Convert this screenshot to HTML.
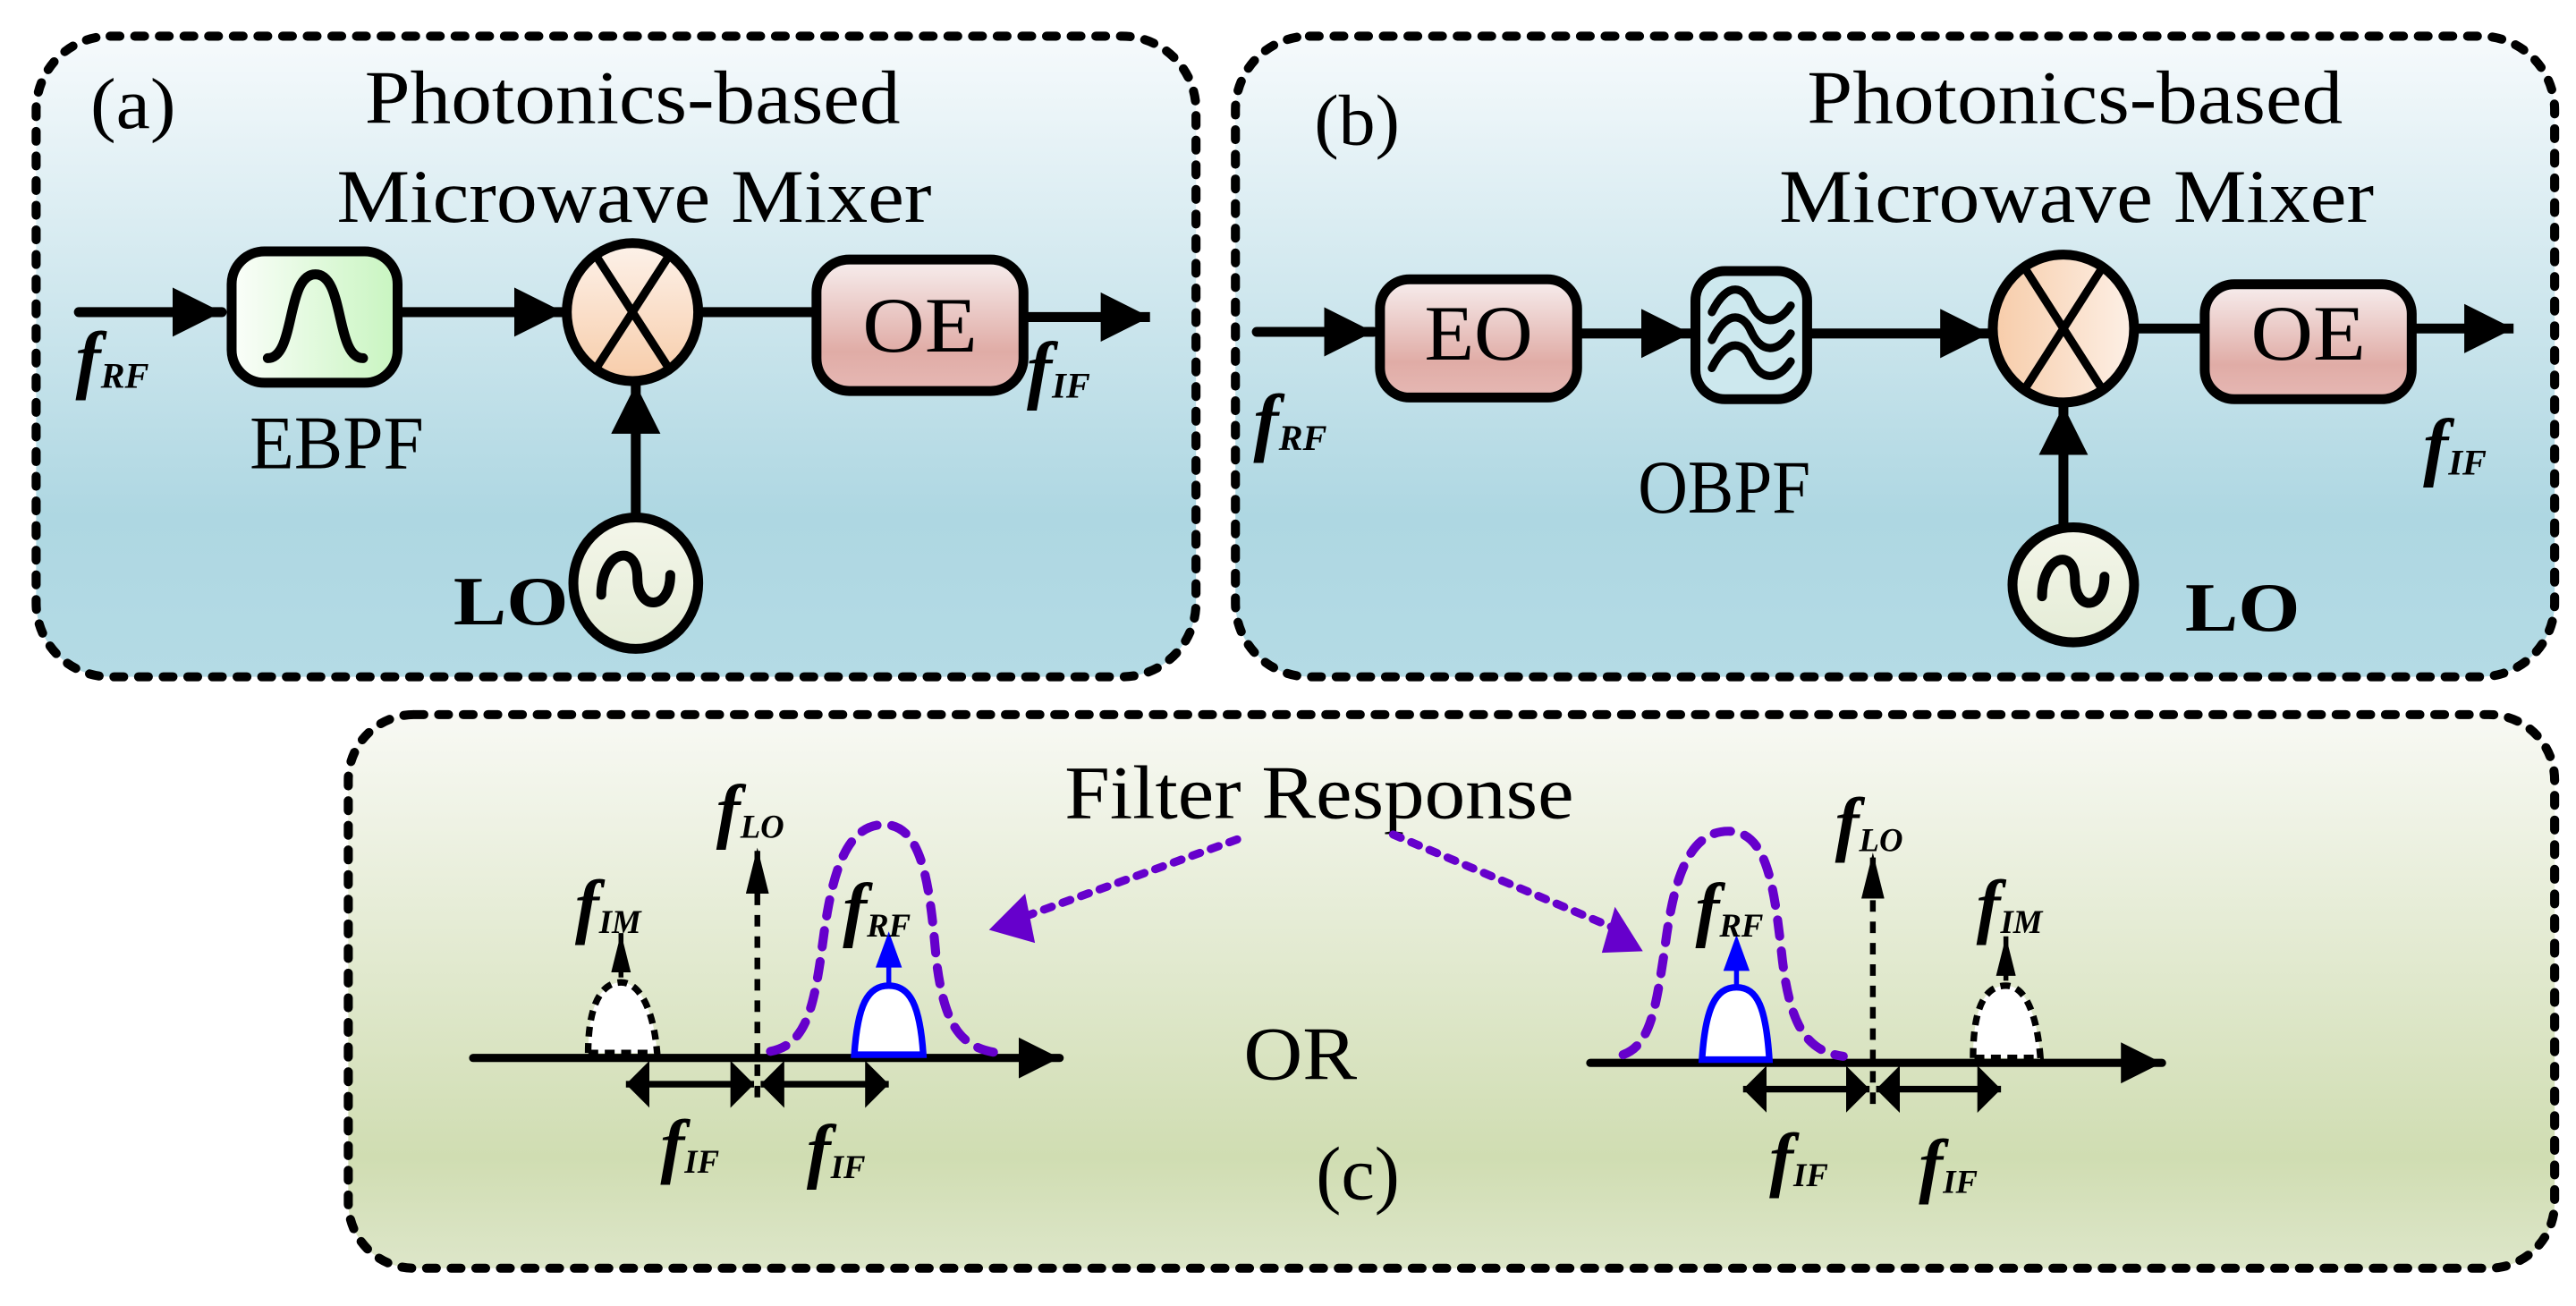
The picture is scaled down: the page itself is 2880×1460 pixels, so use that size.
<!DOCTYPE html>
<html><head><meta charset="utf-8"><style>
html,body{margin:0;padding:0;background:#fff}
svg{display:block}
text{font-family:"Liberation Serif",serif;fill:#000}
.fb{font-weight:bold;font-style:italic}
</style></head><body>
<svg width="2880" height="1460" viewBox="0 0 1568 795" preserveAspectRatio="none" xmlns="http://www.w3.org/2000/svg">
<defs>
<linearGradient id="gb" x1="0" y1="0" x2="0" y2="1"><stop offset="0" stop-color="#f6fafc"/><stop offset="0.75" stop-color="#aed7e2"/><stop offset="1" stop-color="#b4dbe5"/></linearGradient>
<linearGradient id="gc" x1="0" y1="0" x2="0" y2="1"><stop offset="0" stop-color="#f8f9f4"/><stop offset="0.8" stop-color="#d0ddb2"/><stop offset="1" stop-color="#dde6c9"/></linearGradient>
<linearGradient id="gg" x1="0" y1="0" x2="1" y2="0"><stop offset="0" stop-color="#fbfefa"/><stop offset="1" stop-color="#c8f5c0"/></linearGradient>
<linearGradient id="gp" x1="0" y1="0" x2="0" y2="1"><stop offset="0" stop-color="#f7eeee"/><stop offset="0.7" stop-color="#e0aca6"/><stop offset="1" stop-color="#e6b8b4"/></linearGradient>
<linearGradient id="go" x1="0" y1="0" x2="0" y2="1"><stop offset="0" stop-color="#fdf2ea"/><stop offset="1" stop-color="#f7cca9"/></linearGradient>
<linearGradient id="go2" x1="0" y1="0" x2="1" y2="0"><stop offset="0" stop-color="#f7cca9"/><stop offset="1" stop-color="#fdf0e6"/></linearGradient>
<linearGradient id="gl" x1="0" y1="0" x2="0" y2="1"><stop offset="0" stop-color="#f4f6ea"/><stop offset="1" stop-color="#e4ecd6"/></linearGradient>
<marker id="ah" viewBox="0 0 10 10" refX="10" refY="5" markerWidth="5" markerHeight="5" orient="auto" markerUnits="strokeWidth"><path d="M0,0L10,5L0,10z" fill="#000"/></marker>
<marker id="th" viewBox="0 0 20 10" refX="20" refY="5" markerWidth="8" markerHeight="4" orient="auto" markerUnits="strokeWidth"><path d="M0,0L20,5L0,10z" fill="#000"/></marker>
<marker id="dh" viewBox="0 0 10 20" refX="10" refY="10" markerWidth="3.6" markerHeight="7.2" orient="auto-start-reverse" markerUnits="strokeWidth"><path d="M0,0L10,10L0,20z" fill="#000"/></marker>
</defs>

<!-- panel a -->
<rect x="22" y="22" width="706" height="390" rx="45" fill="url(#gb)" stroke="#000" stroke-width="5.5" stroke-dasharray="6 9" stroke-linecap="round"/>
<text x="55" y="78" font-size="44" textLength="52" lengthAdjust="spacingAndGlyphs">(a)</text>
<text x="222" y="75" font-size="46" textLength="326" lengthAdjust="spacingAndGlyphs">Photonics-based</text>
<text x="205" y="135" font-size="46" textLength="362" lengthAdjust="spacingAndGlyphs">Microwave Mixer</text>
<line x1="48" y1="190" x2="135" y2="190" stroke="#000" stroke-width="6" marker-end="url(#ah)" stroke-linecap="round"/>
<text x="46" y="234" class="fb" font-size="46">f<tspan font-size="22" dy="2">RF</tspan></text>
<rect x="141" y="153" width="101" height="80" rx="20" fill="url(#gg)" stroke="#000" stroke-width="6"/>
<path d="M163,218 C180,218 174,167 192,167 C210,167 204,218 221,218" fill="none" stroke="#000" stroke-width="6" stroke-linecap="round"/>
<text x="152" y="285" font-size="46" textLength="106" lengthAdjust="spacingAndGlyphs">EBPF</text>
<line x1="242" y1="190" x2="343" y2="190" stroke="#000" stroke-width="6" marker-end="url(#ah)"/>
<ellipse cx="385" cy="190" rx="40" ry="42" fill="url(#go)" stroke="#000" stroke-width="6"/>
<path d="M363,156L407,224M407,156L363,224" stroke="#000" stroke-width="5"/>
<line x1="425" y1="190" x2="497" y2="190" stroke="#000" stroke-width="6"/>
<rect x="497" y="158" width="126" height="80" rx="20" fill="url(#gp)" stroke="#000" stroke-width="6"/>
<text x="560" y="214" text-anchor="middle" font-size="48" textLength="70" lengthAdjust="spacingAndGlyphs">OE</text>
<line x1="623" y1="193" x2="700" y2="193" stroke="#000" stroke-width="6" marker-end="url(#ah)"/>
<text x="625" y="240" class="fb" font-size="46">f<tspan font-size="22" dy="2">IF</tspan></text>
<line x1="387" y1="318" x2="387" y2="234" stroke="#000" stroke-width="6" marker-end="url(#ah)"/>
<ellipse cx="387" cy="355" rx="38" ry="40" fill="url(#gl)" stroke="#000" stroke-width="6"/>
<path d="M366,362 C366,335 388,330 388,352 C388,372 408,372 408,350" fill="none" stroke="#000" stroke-width="6" stroke-linecap="round"/>
<text x="276" y="380" font-size="42" font-weight="bold" textLength="70" lengthAdjust="spacingAndGlyphs">LO</text>

<!-- panel b -->
<rect x="752" y="22" width="803" height="390" rx="45" fill="url(#gb)" stroke="#000" stroke-width="5.5" stroke-dasharray="6 9" stroke-linecap="round"/>
<text x="800" y="88" font-size="44" textLength="52" lengthAdjust="spacingAndGlyphs">(b)</text>
<text x="1100" y="75" font-size="46" textLength="326" lengthAdjust="spacingAndGlyphs">Photonics-based</text>
<text x="1083" y="135" font-size="46" textLength="362" lengthAdjust="spacingAndGlyphs">Microwave Mixer</text>
<line x1="765" y1="202" x2="836" y2="202" stroke="#000" stroke-width="6" marker-end="url(#ah)" stroke-linecap="round"/>
<text x="763" y="272" class="fb" font-size="46">f<tspan font-size="22" dy="2">RF</tspan></text>
<rect x="840" y="170" width="120" height="72" rx="18" fill="url(#gp)" stroke="#000" stroke-width="6"/>
<text x="900" y="219" text-anchor="middle" font-size="48" textLength="66" lengthAdjust="spacingAndGlyphs">EO</text>
<line x1="960" y1="203" x2="1029" y2="203" stroke="#000" stroke-width="6" marker-end="url(#ah)"/>
<rect x="1032" y="165" width="68" height="78" rx="18" fill="#cde8ee" stroke="#000" stroke-width="6"/>
<g fill="none" stroke="#000" stroke-width="5" stroke-linecap="round">
<path d="M1042,190 C1052,170 1062,175 1066,185 C1072,198 1082,198 1090,186"/>
<path d="M1042,207 C1052,187 1062,192 1066,202 C1072,215 1082,215 1090,203"/>
<path d="M1042,224 C1052,204 1062,209 1066,219 C1072,232 1082,232 1090,220"/>
</g>
<text x="997" y="312" font-size="46" textLength="105" lengthAdjust="spacingAndGlyphs">OBPF</text>
<line x1="1100" y1="203" x2="1211" y2="203" stroke="#000" stroke-width="6" marker-end="url(#ah)"/>
<ellipse cx="1256" cy="200" rx="43" ry="45" fill="url(#go2)" stroke="#000" stroke-width="6"/>
<path d="M1233,164L1279,236M1279,164L1233,236" stroke="#000" stroke-width="5"/>
<line x1="1299" y1="200" x2="1342" y2="200" stroke="#000" stroke-width="6"/>
<rect x="1342" y="173" width="126" height="70" rx="18" fill="url(#gp)" stroke="#000" stroke-width="6"/>
<text x="1405" y="219" text-anchor="middle" font-size="48" textLength="70" lengthAdjust="spacingAndGlyphs">OE</text>
<line x1="1468" y1="200" x2="1530" y2="200" stroke="#000" stroke-width="6" marker-end="url(#ah)"/>
<text x="1475" y="287" class="fb" font-size="46">f<tspan font-size="22" dy="2">IF</tspan></text>
<line x1="1256" y1="322" x2="1256" y2="247" stroke="#000" stroke-width="6" marker-end="url(#ah)"/>
<ellipse cx="1262" cy="356" rx="37" ry="35" fill="url(#gl)" stroke="#000" stroke-width="6"/>
<path d="M1243,363 C1243,338 1263,333 1263,353 C1263,372 1281,372 1281,351" fill="none" stroke="#000" stroke-width="6" stroke-linecap="round"/>
<text x="1330" y="384" font-size="42" font-weight="bold" textLength="70" lengthAdjust="spacingAndGlyphs">LO</text>

<!-- panel c -->
<rect x="212" y="435" width="1343" height="337" rx="40" fill="url(#gc)" stroke="#000" stroke-width="5.5" stroke-dasharray="6 9" stroke-linecap="round"/>
<text x="648" y="498" font-size="46" textLength="310" lengthAdjust="spacingAndGlyphs">Filter Response</text>
<text x="757" y="657" font-size="46" textLength="69" lengthAdjust="spacingAndGlyphs">OR</text>
<text x="801" y="730" font-size="46" textLength="51" lengthAdjust="spacingAndGlyphs">(c)</text>
<line x1="753" y1="511" x2="618" y2="560" stroke="#6600cc" stroke-width="5" stroke-dasharray="5 7" stroke-linecap="round"/>
<path d="M602,566L624,544L630,574z" fill="#6600cc"/>
<line x1="848" y1="508" x2="985" y2="566" stroke="#6600cc" stroke-width="5" stroke-dasharray="5 7" stroke-linecap="round"/>
<path d="M1000,579L975,580L983,552z" fill="#6600cc"/>

<!-- left spectrum -->
<line x1="288" y1="644" x2="645" y2="644" stroke="#000" stroke-width="5" marker-end="url(#ah)" stroke-linecap="round"/>
<path d="M358,641 C358,612 366,598 378,598 C390,598 398,616 400,641z" fill="#fff" stroke="#000" stroke-width="4" stroke-dasharray="6 4"/>
<line x1="378" y1="595" x2="378" y2="568" stroke="#000" stroke-width="3" marker-end="url(#th)"/>
<text x="350" y="566" class="fb" font-size="44">f<tspan font-size="20" dy="2">IM</tspan></text>
<line x1="461" y1="668" x2="461" y2="516" stroke="#000" stroke-width="3.5" stroke-dasharray="7 6" marker-end="url(#th)"/>
<text x="436" y="508" class="fb" font-size="44">f<tspan font-size="20" dy="2">LO</tspan></text>
<path d="M469,640 C490,636 495,615 500,580 C505,540 512,502 538,502 C562,502 566,540 570,585 C575,625 585,638 608,641" fill="none" stroke="#6600cc" stroke-width="5.5" stroke-dasharray="10 9" stroke-linecap="round"/>
<path d="M520,642 C522,612 528,600 541,600 C554,600 560,612 562,642z" fill="#fff" stroke="#0000ff" stroke-width="4"/>
<line x1="541" y1="600" x2="541" y2="585" stroke="#0000ff" stroke-width="3"/>
<path d="M541,567L533,589L549,589z" fill="#0000ff"/>
<text x="513" y="568" class="fb" font-size="44">f<tspan font-size="20" dy="2">RF</tspan></text>
<line x1="381" y1="660" x2="459" y2="660" stroke="#000" stroke-width="4" marker-start="url(#dh)" marker-end="url(#dh)"/>
<line x1="463" y1="660" x2="541" y2="660" stroke="#000" stroke-width="4" marker-start="url(#dh)" marker-end="url(#dh)"/>
<text x="402" y="712" class="fb" font-size="44">f<tspan font-size="20" dy="2">IF</tspan></text>
<text x="491" y="715" class="fb" font-size="44">f<tspan font-size="20" dy="2">IF</tspan></text>

<!-- right spectrum -->
<line x1="968" y1="647" x2="1316" y2="647" stroke="#000" stroke-width="5" marker-end="url(#ah)" stroke-linecap="round"/>
<path d="M988,642 C1005,636 1008,612 1013,580 C1018,540 1026,506 1052,506 C1076,506 1080,540 1085,585 C1090,625 1100,640 1122,643" fill="none" stroke="#6600cc" stroke-width="5.5" stroke-dasharray="10 9" stroke-linecap="round"/>
<path d="M1036,645 C1038,614 1044,601 1057,601 C1070,601 1075,614 1077,645z" fill="#fff" stroke="#0000ff" stroke-width="4"/>
<line x1="1057" y1="601" x2="1057" y2="588" stroke="#0000ff" stroke-width="3"/>
<path d="M1057,569L1049,591L1065,591z" fill="#0000ff"/>
<text x="1032" y="568" class="fb" font-size="44">f<tspan font-size="20" dy="2">RF</tspan></text>
<line x1="1140" y1="672" x2="1140" y2="519" stroke="#000" stroke-width="3.5" stroke-dasharray="7 6" marker-end="url(#th)"/>
<text x="1117" y="516" class="fb" font-size="44">f<tspan font-size="20" dy="2">LO</tspan></text>
<path d="M1201,644 C1201,614 1208,600 1221,600 C1233,600 1240,618 1242,644z" fill="#fff" stroke="#000" stroke-width="4" stroke-dasharray="6 4"/>
<line x1="1221" y1="597" x2="1221" y2="570" stroke="#000" stroke-width="3" marker-end="url(#th)"/>
<text x="1203" y="566" class="fb" font-size="44">f<tspan font-size="20" dy="2">IM</tspan></text>
<line x1="1061" y1="663" x2="1138" y2="663" stroke="#000" stroke-width="4" marker-start="url(#dh)" marker-end="url(#dh)"/>
<line x1="1142" y1="663" x2="1218" y2="663" stroke="#000" stroke-width="4" marker-start="url(#dh)" marker-end="url(#dh)"/>
<text x="1077" y="720" class="fb" font-size="44">f<tspan font-size="20" dy="2">IF</tspan></text>
<text x="1168" y="724" class="fb" font-size="44">f<tspan font-size="20" dy="2">IF</tspan></text>
</svg>
</body></html>
